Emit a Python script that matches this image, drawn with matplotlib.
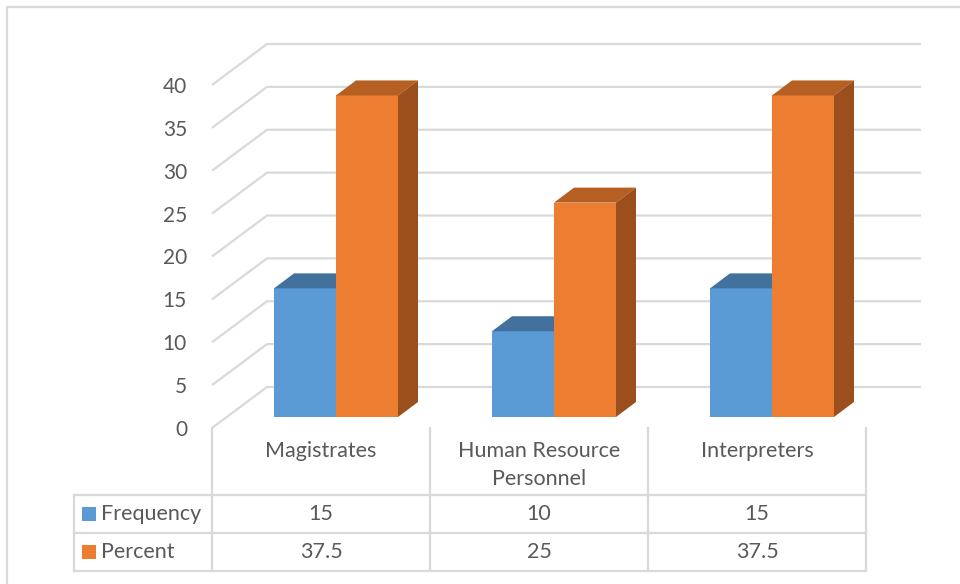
import matplotlib
matplotlib.use('Agg')
import matplotlib.pyplot as plt
from matplotlib.patches import Polygon, Rectangle
from matplotlib.transforms import blended_transform_factory
import matplotlib.lines as mlines

# ---------------- data ----------------
categories = ['Magistrates', 'Human Resource\nPersonnel', 'Interpreters']
series_names = ['Frequency', 'Percent']
frequency = [15, 10, 15]
percent = [37.5, 25, 37.5]
frequency_labels = ['15', '10', '15']
percent_labels = ['37.5', '25', '37.5']
yticks = [0, 5, 10, 15, 20, 25, 30, 35, 40]

# ---------------- styling ----------------
W, H = 960, 584
plt.rcParams['font.family'] = ['Lato', 'DejaVu Sans']
text_c = '#595959'
grid_c = '#d9d9d9'
fs = 15.5
series_colors = [
    ('#5B9BD5', '#41719C', '#3A6891'),   # front, top, side
    ('#ED7D31', '#B65F22', '#9B4F1C'),
]

fig = plt.figure(figsize=(W / 100, H / 100), dpi=100)
fig.patch.set_facecolor('white')

def fx(p):
    return p / W

def fy(p):
    return 1 - p / H

ax = fig.add_axes([fx(212), fy(428), 654 / W, 343 / H])
ax.set_xlim(-0.5, 2.5)
ax.set_ylim(0, 40)
for s in ax.spines.values():
    s.set_visible(False)
ax.patch.set_visible(False)
ax.set_xticks([])
ax.set_yticks(yticks)
ax.set_yticklabels([str(v) for v in yticks])
ax.tick_params(axis='y', length=0, pad=18, labelsize=15, labelcolor=text_c)

# oblique projection offsets (data units)
px_x = 218.0
px_y = 343.0 / 40
wall_dx, wall_dy = 55 / px_x, 41 / px_y
bar_dx0, bar_dy0 = 15 / px_x, 11 / px_y
bar_ddx, bar_ddy = 20 / px_x, 15 / px_y
bw = 62 / px_x

# gridlines: diagonal on the side wall + horizontal on the back wall
for v in yticks:
    ax.plot([-0.5, -0.5 + wall_dx, 2.5 + wall_dx], [v, v + wall_dy, v + wall_dy],
            color=grid_c, lw=1.6, clip_on=False, zorder=1, solid_capstyle='butt')

# 3D-looking bars
for i in range(len(categories)):
    for j, vals in enumerate([frequency, percent]):
        front_c, top_c, side_c = series_colors[j]
        x0 = i - bw + j * bw + bar_dx0
        y0 = bar_dy0
        h = vals[i]
        z = 3 + j
        ax.add_patch(Rectangle((x0, y0), bw, h, facecolor=front_c, edgecolor='none',
                               clip_on=False, zorder=z))
        ax.add_patch(Polygon([(x0, y0 + h), (x0 + bw, y0 + h),
                              (x0 + bw + bar_ddx, y0 + h + bar_ddy),
                              (x0 + bar_ddx, y0 + h + bar_ddy)],
                             closed=True, facecolor=top_c, edgecolor='none',
                             clip_on=False, zorder=z))
        ax.add_patch(Polygon([(x0 + bw, y0), (x0 + bw + bar_ddx, y0 + bar_ddy),
                              (x0 + bw + bar_ddx, y0 + h + bar_ddy), (x0 + bw, y0 + h)],
                             closed=True, facecolor=side_c, edgecolor='none',
                             clip_on=False, zorder=z))

# ---------------- data table ----------------
tr = blended_transform_factory(ax.transData, fig.transFigure)
leg_left = -0.5 - (212 - 74) / px_x
row_top, row1, row2, row_bot = 428, 495, 533, 571

def tline(xs, ys_px, **kw):
    ln = mlines.Line2D(xs, [fy(p) for p in ys_px], transform=tr, color=grid_c,
                       lw=1.6, clip_on=False, solid_capstyle='projecting', **kw)
    fig.add_artist(ln)

for xb in [-0.5, 0.5, 1.5, 2.5]:
    tline([xb, xb], [row_top, row_bot])
tline([leg_left, leg_left], [row1, row_bot])
for yb in [row1, row2, row_bot]:
    tline([leg_left, 2.5], [yb, yb])

for i, cat in enumerate(categories):
    fig.text(i, fy(441), cat, transform=tr, ha='center', va='top', fontsize=fs,
             color=text_c, linespacing=1.5)
    fig.text(i, fy((row1 + row2) / 2), frequency_labels[i], transform=tr,
             ha='center', va='center', fontsize=fs, color=text_c)
    fig.text(i, fy((row2 + row_bot) / 2), percent_labels[i], transform=tr,
             ha='center', va='center', fontsize=fs, color=text_c)

for k, (name, ytop, ybot) in enumerate([(series_names[0], row1, row2),
                                          (series_names[1], row2, row_bot)]):
    yc = (ytop + ybot) / 2
    fig.add_artist(Rectangle((fx(82), fy(yc + 7)), 14 / W, 14 / H,
                             transform=fig.transFigure,
                             facecolor=series_colors[k][0], edgecolor='none'))
    fig.text(fx(101), fy(yc), name, ha='left', va='center', fontsize=fs, color=text_c)

# outer chart border (left and top edges visible)
fig.add_artist(mlines.Line2D([fx(7), fx(7), fx(960)], [fy(584), fy(7), fy(7)],
                             transform=fig.transFigure, color=grid_c, lw=1.6))

fig.savefig('out.png', dpi=100)
